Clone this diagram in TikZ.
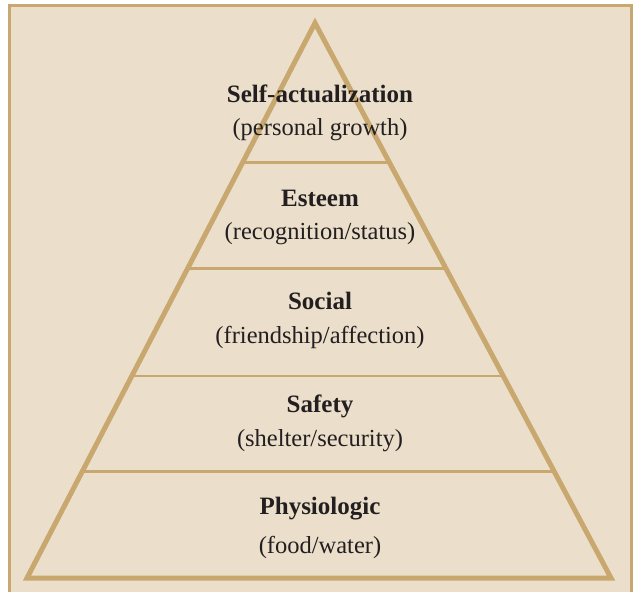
\documentclass[tikz,border=0pt]{standalone}
\usepackage{fontspec}
\setmainfont{Liberation Serif}
\usetikzlibrary{calc}
\definecolor{parchment}{RGB}{235,223,203}
\definecolor{tan}{RGB}{200,168,110}
\definecolor{ink}{RGB}{35,31,32}
\tikzset{
  level/.style={text=ink, font=\fontsize{25}{29}\selectfont\bfseries},
  note/.style={text=ink, font=\fontsize{24.5}{29}\selectfont},
  rung/.style={draw=tan, line width=2.5pt}
}

\begin{document}
\begin{tikzpicture}[x=1pt, y=-1pt]
			%%%%% START %%%%%
			\useasboundingbox (0, 0) rectangle (635, 592);
			
			\draw[fill=parchment, draw=tan, line width=3pt] (9.5, 5) rectangle (631, 610);
			
			\coordinate (apex) at (315, 23);
			\coordinate (bl) at (27, 578);
			\coordinate (br) at (611, 578);
			
			% rungs between the levels
			\foreach \h in {162.5, 268.5, 376, 471.5} {
				\pgfmathsetmacro{\t}{(578-\h)/(578-23)}
				\draw[rung] ($(bl)!\t!(apex)$) -- ($(br)!\t!(apex)$);
			}
			
			\draw[draw=tan, line width=5pt, line join=miter] (apex) -- (br) -- (bl) -- cycle;
			
			\node[level] (selfact) at (320, 94) {Self-actualization};
			\node[note] (growth) at (320, 130) {(personal growth)};
			
			\node[level] (esteem) at (320, 198) {Esteem};
			\node[note] (status) at (320, 234) {(recognition/status)};
			
			\node[level] (social) at (320, 301) {Social};
			\node[note] (affection) at (320, 337) {(friendship/affection)};
			
			\node[level] (safety) at (320, 406) {Safety};
			\node[note] (security) at (320, 441) {(shelter/security)};
			
			\node[level] (physio) at (320, 509) {Physiologic};
			\node[note] (water) at (320, 547) {(food/water)};
			
			%%%%% END %%%%%
\end{tikzpicture}
\end{document}
